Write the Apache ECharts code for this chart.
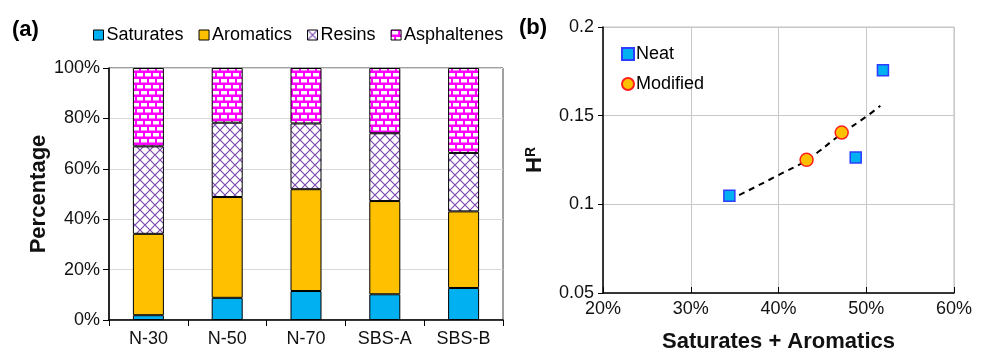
<!DOCTYPE html>
<html>
<head>
<meta charset="utf-8">
<script src="https://cdn.jsdelivr.net/npm/echarts@6/dist/echarts.min.js"></script>
<style>
  html, body { margin: 0; padding: 0; background: #fff; }
  #chart { width: 983px; height: 358px; }
</style>
</head>
<body>
<div id="chart"></div>
<script>
// ---- data (a): composition of each binder, % ----
const categories = ['N-30', 'N-50', 'N-70', 'SBS-A', 'SBS-B']
const saturates = [1.9, 8.8, 11.5, 10.2, 12.7]
const aromatics = [32.3, 40.0, 40.4, 37.0, 30.4]
const resins = [34.7, 29.5, 26.1, 26.9, 23.2]
const asphaltenes = [31.1, 21.7, 22.0, 25.9, 33.7]
const percentTicks = [0, 20, 40, 60, 80, 100]

// ---- data (b): HR vs saturates + aromatics ----
const neat = [[34.4, 0.1048], [48.8, 0.1264], [51.9, 0.1756]]
const modified = [[43.2, 0.1251], [47.2, 0.1405]]
const trend = [[34.4, 0.1024], [40.0, 0.1165], [43.2, 0.1250], [47.2, 0.1398], [50.0, 0.1495], [51.6, 0.1556]]
const xTicksB = [20, 30, 40, 50, 60]
const yTicksB = [0.05, 0.1, 0.15, 0.2]

const font = 'Liberation Sans, Arial, sans-serif'

// brick pattern for asphaltenes
function brickPattern () {
  const c = document.createElement('canvas')
  c.width = 16; c.height = 12
  const g = c.getContext('2d')
  g.fillStyle = '#ff00ff'
  g.fillRect(0, 0, 16, 12)
  g.fillStyle = '#ffffff'
  g.fillRect(1, 1, 6, 3.5); g.fillRect(9, 1, 6, 3.5)
  g.fillRect(0, 7, 3, 3.5); g.fillRect(5, 7, 6, 3.5); g.fillRect(13, 7, 3, 3.5)
  return c
}
// cross hatch pattern for resins
function hatchPattern () {
  const c = document.createElement('canvas')
  c.width = 10; c.height = 10
  const g = c.getContext('2d')
  g.fillStyle = '#ffffff'
  g.fillRect(0, 0, 10, 10)
  g.strokeStyle = '#7d4bb0'
  g.lineWidth = 1.2
  g.beginPath()
  g.moveTo(0, 0); g.lineTo(10, 10)
  g.moveTo(10, 0); g.lineTo(0, 10)
  g.stroke()
  return c
}

const barStyle = (color) => ({ color: color, borderColor: '#000', borderWidth: 1 })

const chart = echarts.init(document.getElementById('chart'))
chart.setOption({
  animation: false,
  textStyle: { fontFamily: font },
  graphic: [
    { type: 'text', left: 12, top: 19, style: { text: '(a)', font: 'bold 22px ' + font, fill: '#000' } },
    { type: 'text', left: 519, top: 17, style: { text: '(b)', font: 'bold 22px ' + font, fill: '#000' } }
  ],
  legend: [
    {
      left: 88, top: 21, itemWidth: 10, itemHeight: 10, itemGap: 15,
      data: ['Saturates', 'Aromatics', 'Resins', 'Asphaltenes'],
      icon: 'rect',
      itemStyle: { borderColor: '#000', borderWidth: 1 },
      textStyle: { fontSize: 18, color: '#000', padding: [0, 0, 0, -2] }
    },
    {
      orient: 'vertical', left: 616, top: 40, itemWidth: 12, itemHeight: 12, itemGap: 12,
      data: ['Neat', 'Modified'],
      textStyle: { fontSize: 18, color: '#000', padding: [0, 0, 0, -3] }
    }
  ],
  grid: [
    { left: 109, top: 68, width: 394, height: 252, show: true, borderColor: '#404040', borderWidth: 1 },
    { left: 603, top: 27, width: 351, height: 269, show: true, borderColor: '#c0c0c0', borderWidth: 1 }
  ],
  xAxis: [
    {
      gridIndex: 0, type: 'category', data: categories,
      axisLine: { lineStyle: { color: '#000', width: 1.5 } },
      axisTick: { show: true, length: 6, lineStyle: { color: '#000' } },
      axisLabel: { fontSize: 18, color: '#111', margin: 10 }
    },
    {
      gridIndex: 1, type: 'value', min: xTicksB[0], max: xTicksB[xTicksB.length - 1], interval: 10,
      axisLine: { lineStyle: { color: '#000', width: 1.5 } },
      axisTick: { show: true, inside: true, length: 6, lineStyle: { color: '#000' } },
      axisLabel: { fontSize: 18, color: '#111', margin: 7, formatter: '{value}%' },
      splitLine: { show: true, lineStyle: { color: '#c8c8c8' } },
      name: 'Saturates + Aromatics', nameLocation: 'middle', nameGap: 38,
      nameTextStyle: { fontSize: 22, fontWeight: 'bold', color: '#111' }
    }
  ],
  yAxis: [
    {
      gridIndex: 0, type: 'value', min: percentTicks[0], max: percentTicks[percentTicks.length - 1], interval: 20,
      axisLine: { show: true, lineStyle: { color: '#000', width: 1.5 } },
      axisTick: { show: true, length: 6, lineStyle: { color: '#000' } },
      axisLabel: { fontSize: 18, color: '#111', margin: 9, formatter: '{value}%' },
      splitLine: { show: true, lineStyle: { color: '#d9d9d9' } },
      name: 'Percentage', nameLocation: 'middle', nameGap: 58,
      nameTextStyle: { fontSize: 22, fontWeight: 'bold', color: '#111' }
    },
    {
      gridIndex: 1, type: 'value', min: yTicksB[0], max: yTicksB[yTicksB.length - 1], interval: 0.05,
      axisLine: { show: true, lineStyle: { color: '#000', width: 1.5 } },
      axisTick: { show: true, length: 5, lineStyle: { color: '#000' } },
      axisLabel: { fontSize: 18, color: '#111', margin: 9 },
      splitLine: { show: true, lineStyle: { color: '#c8c8c8' } },
      name: '{h|H}{r|R}', nameLocation: 'middle', nameGap: 57,
      nameTextStyle: {
        rich: {
          h: { fontSize: 22, fontWeight: 'bold', color: '#111' },
          r: { fontSize: 14, fontWeight: 'bold', color: '#111', padding: [0, 0, 8, 0] }
        }
      }
    }
  ],
  series: [
    { name: 'Saturates', type: 'bar', stack: 'all', xAxisIndex: 0, yAxisIndex: 0, barWidth: 31, data: saturates, itemStyle: barStyle('#00b0f0') },
    { name: 'Aromatics', type: 'bar', stack: 'all', xAxisIndex: 0, yAxisIndex: 0, barWidth: 31, data: aromatics, itemStyle: barStyle('#ffc000') },
    { name: 'Resins', type: 'bar', stack: 'all', xAxisIndex: 0, yAxisIndex: 0, barWidth: 31, data: resins, itemStyle: barStyle({ image: hatchPattern(), repeat: 'repeat' }) },
    { name: 'Asphaltenes', type: 'bar', stack: 'all', xAxisIndex: 0, yAxisIndex: 0, barWidth: 31, data: asphaltenes, itemStyle: barStyle({ image: brickPattern(), repeat: 'repeat' }) },
    {
      name: 'trend', type: 'line', xAxisIndex: 1, yAxisIndex: 1, data: trend, smooth: true,
      showSymbol: false, symbol: 'none', z: 1,
      lineStyle: { color: '#000', width: 2, type: [6, 5] }
    },
    {
      name: 'Neat', type: 'scatter', xAxisIndex: 1, yAxisIndex: 1, data: neat, symbol: 'rect', symbolSize: 11, z: 3,
      itemStyle: { color: '#00b0f0', borderColor: '#2e3cff', borderWidth: 1.5, opacity: 1 }
    },
    {
      name: 'Modified', type: 'scatter', xAxisIndex: 1, yAxisIndex: 1, data: modified, symbol: 'circle', symbolSize: 13, z: 3,
      itemStyle: { color: '#ffc000', borderColor: '#ff2020', borderWidth: 1.5, opacity: 1 }
    }
  ]
})
</script>
</body>
</html>
